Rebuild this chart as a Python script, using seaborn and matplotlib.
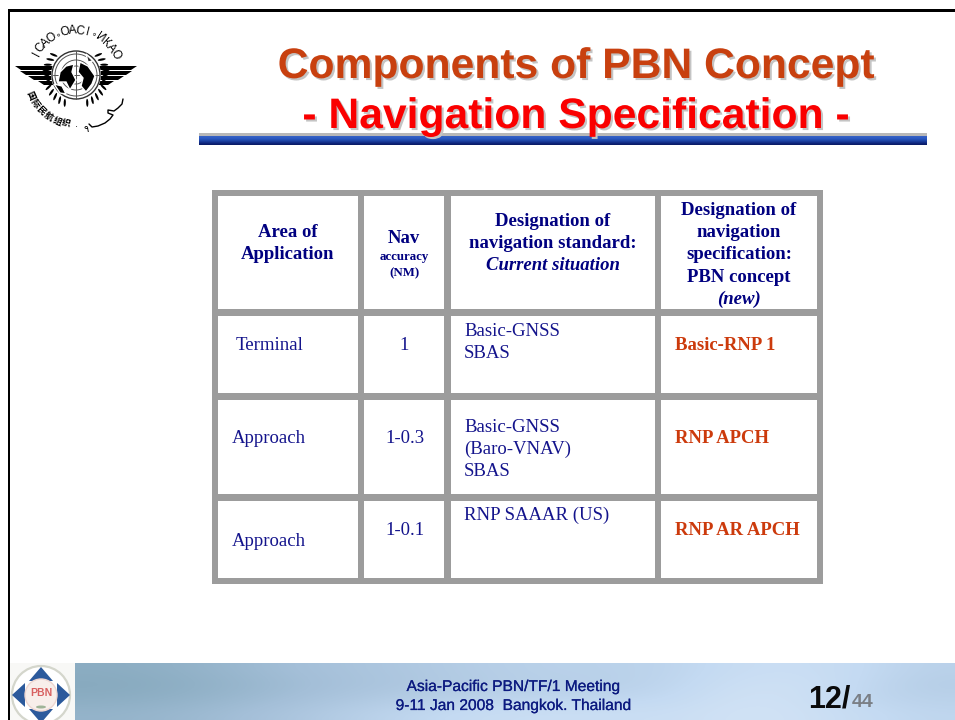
import numpy as np
import matplotlib
matplotlib.use('Agg')
import matplotlib.pyplot as plt
import matplotlib.patheffects as pe
from matplotlib.colors import LinearSegmentedColormap
from matplotlib.patches import Rectangle, Circle, Ellipse, Polygon
import seaborn as sns

# slide text
title_top = "Components of PBN Concept"
title_sub = "- Navigation Specification -"
footer_lines = ["Asia-Pacific PBN/TF/1 Meeting", "9-11 Jan 2008  Bangkok. Thailand"]
page_no = "12/"
page_total = "44"

# table contents
header_area = ["Area of", "Application"]
header_nav = ["Nav", "accuracy", "(NM)"]
header_current = ["Designation of", "navigation standard:", "Current situation"]
header_new = ["Designation of", "navigation", "specification:", "PBN concept", "(new)"]
areas = ["Terminal", "Approach", "Approach"]
accuracy = ["1", "1-0.3", "1-0.1"]
current = [["Basic-GNSS", "SBAS"], ["Basic-GNSS", "(Baro-VNAV)", "SBAS"], ["RNP SAAAR (US)"]]
specs = ["Basic-RNP 1", "RNP APCH", "RNP AR APCH"]

# sky strip brightness
sky = [
    [0.12, 0.16, 0.24, 0.34, 0.40, 0.46, 0.52, 0.56, 0.56, 0.60, 0.72, 0.74, 0.68, 0.56],
    [0.08, 0.12, 0.20, 0.30, 0.38, 0.44, 0.50, 0.54, 0.54, 0.62, 0.76, 0.78, 0.66, 0.52],
    [0.12, 0.16, 0.24, 0.34, 0.44, 0.52, 0.58, 0.62, 0.62, 0.66, 0.80, 0.78, 0.64, 0.56],
    [0.20, 0.24, 0.32, 0.42, 0.54, 0.64, 0.72, 0.74, 0.74, 0.74, 0.82, 0.80, 0.70, 0.62],
]

NAVY = '#000080'
BODY = '#14148c'
ORANGE = '#cc3a0c'
GREY = '#9c9c9c'
SERIF = 'Liberation Serif'
SANS = 'Liberation Sans'

sns.set_theme(style='white')
fig = plt.figure(figsize=(9.55, 7.2), dpi=100, facecolor='white')

# footer band goes underneath
ax_sky = fig.add_axes([75/955, 0, 880/955, 57/720])
sky_cmap = LinearSegmentedColormap.from_list('sky', ['#7ea3b6', '#a4bfd8', '#c4daf2', '#e0ecf8'])
sns.heatmap(np.array(sky), ax=ax_sky, cmap=sky_cmap, vmin=0, vmax=1, cbar=False,
            xticklabels=False, yticklabels=False)
ax_sky.collections[0].set_visible(False)
ax_sky.imshow(np.array(sky), cmap=sky_cmap, vmin=0, vmax=1, aspect='auto',
              interpolation='bicubic', extent=(0, len(sky[0]), len(sky), 0))

# everything else is laid out in slide pixels
ax = fig.add_axes([0, 0, 1, 1])
ax.set_xlim(0, 955)
ax.set_ylim(720, 0)
ax.axis('off')
ax.patch.set_alpha(0)


def box(x0, y0, x1, y1, color, z=2):
    ax.add_patch(Rectangle((x0, y0), x1-x0, y1-y0, facecolor=color, edgecolor='none', zorder=z))


# slide frame
box(8, 9, 955, 12, 'black')
box(8, 9, 10, 720, 'black')

# title with soft shadow
for txt, yb, col in [(title_top, 78, '#c8400f'), (title_sub, 128, '#fa0000')]:
    t = ax.text(576, yb, txt, color=col, fontsize=30.7, fontweight='bold', family=SANS,
                ha='center', va='baseline', zorder=6)
    t.set_path_effects([pe.withSimplePatchShadow(offset=(1.5, -1.5), shadow_rgbFace='#c4c4c4', alpha=1)])

# rule under the title
box(199, 133, 927, 136, '#b8b8b8', z=3)
for y, c in zip(range(136, 145), ['#3460c4', '#2f5cc2', '#2a58c0', '#2450b4', '#1e46a8', '#183a98', '#122e88', '#0c2276', '#0a1c68']):
    box(199, y, 927, y+1, c, z=3)

# table grid
box(212, 190, 823, 584, GREY)
col_edges = [(218, 358), (364, 444), (451, 655), (661, 817)]
row_edges = [(196, 309), (316, 393), (400, 494), (501, 578)]
for x0, x1 in col_edges:
    for y0, y1 in row_edges:
        box(x0, y0, x1, y1, 'white', z=3)


def cell(x, y, s, weight='normal', style='normal', color=BODY, size=13.5, ha='center'):
    ax.text(x, y, s, family=SERIF, fontsize=size, fontweight=weight, fontstyle=style,
            color=color, ha=ha, va='baseline', zorder=6)


# header row
for s, y in zip(header_area, [237, 259]):
    cell(288, y, s, 'bold', color=NAVY)
cell(404, 243, header_nav[0], 'bold', color=NAVY)
cell(404, 260, header_nav[1], 'bold', color=NAVY, size=9.3)
cell(404, 276, header_nav[2], 'bold', color=NAVY, size=9.3)
for s, y, st in zip(header_current, [226, 248, 270], ['normal', 'normal', 'italic']):
    cell(553, y, s, 'bold', st, NAVY)
for s, y, st in zip(header_new, [215, 237, 259, 282, 304], ['normal']*4 + ['italic']):
    cell(739, y, s, 'bold', st, NAVY)

# body rows
for s, x, y in zip(areas, [236, 232, 232], [350, 443, 546]):
    cell(x, y, s, ha='left')
for s, x, y in zip(accuracy, [404, 405, 405], [350, 443, 535]):
    cell(x, y, s)
for lines, y0 in zip(current, [336, 432, 520]):
    for i, s in enumerate(lines):
        cell(464, y0 + 22*i, s, ha='left')
for s, y in zip(specs, [350, 443, 535]):
    cell(675, y, s, 'bold', color=ORANGE, ha='left')

# ICAO emblem
cx, cy = 76, 75
ring = "ICAO\u2218OACI\u2218ИКАО"
for ch, th in zip(ring, np.linspace(-62, 62, len(ring))):
    r = np.radians(th)
    small = ch == "\u2218"
    ax.text(cx + 44*np.sin(r), cy - 44*np.cos(r), ch, rotation=-th, rotation_mode='anchor',
            fontsize=6 if small else 8.6, family=SANS if not small else 'DejaVu Sans',
            color='black', ha='center', va='center', zorder=8)
for ch, ph in zip("国际民航组织", np.linspace(66, 12, 6)):
    r = np.radians(ph)
    ax.text(cx - 50*np.sin(r), cy + 50*np.cos(r), ch, rotation=-ph, rotation_mode='anchor',
            fontsize=6.4, family='Noto Sans CJK SC', fontweight='bold', color='black',
            ha='center', va='center', zorder=8)
ax.text(76, 127, "·", fontsize=7, family=SANS, color='black', ha='center', va='center', zorder=8)
ax.text(86, 129, "٩", fontsize=7, family='DejaVu Sans', color='black', ha='center', va='center', zorder=8)
ax.plot([89, 92, 98, 105, 110, 113, 108, 108, 114, 118, 122, 123],
        [124, 127, 126, 123, 119, 115, 113, 110, 111, 108, 104, 99], color='black', lw=1, zorder=8)

# wreath
for side in (-1, 1):
    for a in range(48, 160, 11):
        r = np.radians(a)
        ax.add_patch(Ellipse((cx + side*30*np.sin(r), cy - 30*np.cos(r)), 2.2, 8,
                             angle=side*(a + 20), facecolor='black', edgecolor='none', zorder=7))
ax.add_patch(Circle((cx, cy), 25, facecolor='white', edgecolor='none', zorder=9))

# wings
for side in (-1, 1):
    for y0, y1, reach in [(66, 70, 61), (71, 75, 56), (76, 80, 48), (81, 85, 38)]:
        ax.add_patch(Polygon([(cx + side*22, y0), (cx + side*reach, y0),
                              (cx + side*(reach-6), y1), (cx + side*22, y1)],
                             closed=True, facecolor='black', edgecolor='none', zorder=8))

# globe
ax.add_patch(Circle((cx, cy), 24, facecolor='white', edgecolor='#303030', lw=1, zorder=9))
for rad in (21, 15, 9):
    ax.add_patch(Circle((cx, cy), rad, facecolor='none', edgecolor='#555555', lw=0.7, zorder=10))
ax.plot([cx, cx], [cy-24, cy+24], color='#555555', lw=0.7, zorder=10)
ax.plot([cx-23, cx+23], [cy, cy], color='#555555', lw=0.7, zorder=10)
ax.add_patch(Polygon([(60, 72), (66, 66), (74, 64), (72, 72), (76, 80), (70, 90), (66, 82), (58, 82)],
                     facecolor='black', zorder=11))
ax.add_patch(Polygon([(80, 62), (88, 66), (95, 76), (92, 84), (86, 92), (81, 86), (83, 78), (78, 72)],
                     facecolor='black', zorder=11))
ax.add_patch(Polygon([(54, 84), (62, 86), (66, 94), (60, 93)], facecolor='black', zorder=11))
ax.add_patch(Polygon([(86, 54), (93, 61), (88, 62)], facecolor='#303030', zorder=11))

# PBN badge in the corner
box(10, 663, 75, 720, '#f8f8f6', z=2)
ax.add_patch(Circle((41, 695), 29, facecolor='white', edgecolor='#d4d6cc', lw=1.6, zorder=3))
for tri in ([(41, 667), (29, 681), (53, 681)], [(41, 723), (29, 709), (53, 709)],
            [(12, 695), (25, 683), (25, 707)], [(70, 695), (57, 683), (57, 707)]):
    ax.add_patch(Polygon(tri, facecolor='#2c5a9c', edgecolor='none', zorder=4))
ax.add_patch(Circle((41, 695), 16, facecolor='#f8eeea', edgecolor='#eed6d0', lw=1, zorder=5))
ax.text(41, 693, "PBN", color='#d86060', fontsize=7.5, fontweight='bold', family=SANS,
        ha='center', va='center', zorder=6)
ax.add_patch(Ellipse((41, 707), 10, 3, facecolor='#a0b498', edgecolor='none', zorder=6))

# footer text
for s, yb in zip(footer_lines, [691, 710]):
    t = ax.text(513, yb, s, color='#0c1a80', fontsize=11.2, family=SANS, ha='center', va='baseline', zorder=6)
    t.set_path_effects([pe.withStroke(linewidth=0.15, foreground='#0c1a80')])
ax.text(808, 707, page_no, color='#0a0a0a', fontsize=22, fontweight='bold', family=SANS, ha='left', va='baseline', zorder=6)
ax.text(852, 707, page_total, color='#7a7f86', fontsize=14, fontweight='bold', family=SANS, ha='left', va='baseline', zorder=6)

fig.savefig('out.png', dpi=100, facecolor='white')
